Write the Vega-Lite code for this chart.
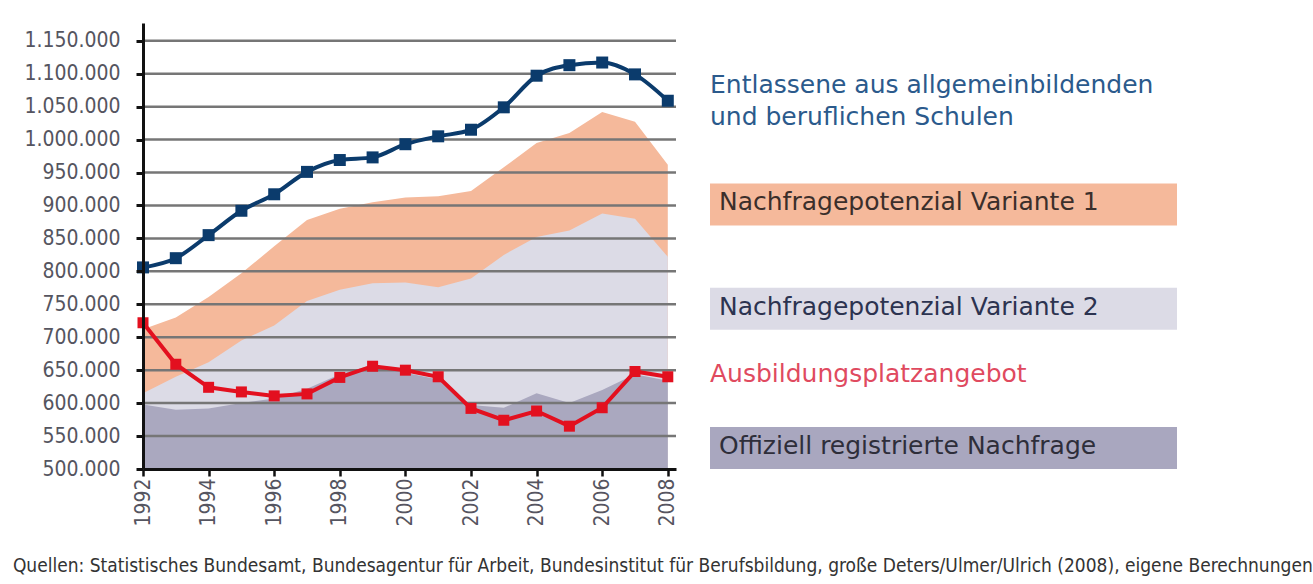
{
  "$schema": "https://vega.github.io/schema/vega-lite/v6.json",
  "background": "white",
  "padding": {"left": 12, "top": 23, "right": 5, "bottom": 5},
  "config": {
    "view": {"stroke": null},
    "locale": {"number": {"decimal": ",", "thousands": ".", "grouping": [3], "currency": ["", " €"]}},
    "font": "DejaVu Sans",
    "axisY": {"labelOverlap": false, "labelSeparation": 0, "labelFlush": false}
  },
  "title": {
    "text": "Quellen: Statistisches Bundesamt, Bundesagentur für Arbeit, Bundesinstitut für Berufsbildung, große Deters/Ulmer/Ulrich (2008), eigene Berechnungen",
    "orient": "bottom",
    "anchor": "start",
    "offset": 31,
    "dx": -11,
    "fontSize": 19,
    "font": "DejaVu Sans Condensed, Liberation Sans Narrow, sans-serif",
    "fontWeight": "normal",
    "color": "#333333"
  },
  "datasets": {
    "series": [
      {"year": 1992, "entlassene": 806000, "angebot": 722000, "variante1": 712000, "variante2": 615000, "nachfrage": 598000},
      {"year": 1993, "entlassene": 820000, "angebot": 659000, "variante1": 730000, "variante2": 640000, "nachfrage": 590000},
      {"year": 1994, "entlassene": 855000, "angebot": 624000, "variante1": 761000, "variante2": 662000, "nachfrage": 592000},
      {"year": 1995, "entlassene": 892000, "angebot": 617000, "variante1": 797000, "variante2": 695000, "nachfrage": 600000},
      {"year": 1996, "entlassene": 917000, "angebot": 611000, "variante1": 838000, "variante2": 718000, "nachfrage": 607000},
      {"year": 1997, "entlassene": 951000, "angebot": 614000, "variante1": 878000, "variante2": 755000, "nachfrage": 622000},
      {"year": 1998, "entlassene": 969000, "angebot": 639000, "variante1": 895000, "variante2": 772000, "nachfrage": 644000},
      {"year": 1999, "entlassene": 973000, "angebot": 656000, "variante1": 905000, "variante2": 782000, "nachfrage": 658000},
      {"year": 2000, "entlassene": 993000, "angebot": 650000, "variante1": 912000, "variante2": 783000, "nachfrage": 646000},
      {"year": 2001, "entlassene": 1005000, "angebot": 640000, "variante1": 914000, "variante2": 776000, "nachfrage": 636000},
      {"year": 2002, "entlassene": 1015000, "angebot": 592000, "variante1": 922000, "variante2": 789000, "nachfrage": 597000},
      {"year": 2003, "entlassene": 1049000, "angebot": 574000, "variante1": 958000, "variante2": 825000, "nachfrage": 593000},
      {"year": 2004, "entlassene": 1097000, "angebot": 588000, "variante1": 995000, "variante2": 852000, "nachfrage": 615000},
      {"year": 2005, "entlassene": 1113000, "angebot": 565000, "variante1": 1010000, "variante2": 862000, "nachfrage": 600000},
      {"year": 2006, "entlassene": 1117000, "angebot": 593000, "variante1": 1042000, "variante2": 888000, "nachfrage": 620000},
      {"year": 2007, "entlassene": 1099000, "angebot": 648000, "variante1": 1027000, "variante2": 880000, "nachfrage": 644000},
      {"year": 2008, "entlassene": 1059000, "angebot": 640000, "variante1": 962000, "variante2": 822000, "nachfrage": 634000}
    ],
    "grid": [
      {"level": 550000}, {"level": 600000}, {"level": 650000}, {"level": 700000},
      {"level": 750000}, {"level": 800000}, {"level": 850000}, {"level": 900000},
      {"level": 950000}, {"level": 1000000}, {"level": 1050000}, {"level": 1100000},
      {"level": 1150000}
    ],
    "legend": [
      {"id": "E", "label": "Entlassene aus allgemeinbildenden\nund beruflichen Schulen"},
      {"id": "V1", "label": "Nachfragepotenzial Variante 1"},
      {"id": "V2", "label": "Nachfragepotenzial Variante 2"},
      {"id": "A", "label": "Ausbildungsplatzangebot"},
      {"id": "N", "label": "Offiziell registrierte Nachfrage"}
    ]
  },
  "spacing": 32,
  "hconcat": [
    {
      "width": 533,
      "height": 446,
      "data": {"name": "series"},
      "layer": [
        {
          "mark": {"type": "area", "color": "#f5b99b", "opacity": 1},
          "encoding": {
            "x": {
              "field": "year", "type": "quantitative",
              "scale": {"domain": [1992, 2008.25], "nice": false, "zero": false},
              "axis": {
                "title": null,
                "values": [1992, 1993, 1994, 1995, 1996, 1997, 1998, 1999, 2000, 2001, 2002, 2003, 2004, 2005, 2006, 2007, 2008],
                "labelExpr": "datum.value % 2 == 0 ? format(datum.value, 'd') : ''",
                "labelAngle": 270,
                "grid": false,
                "domainColor": "#111111", "domainWidth": 3,
                "tickColor": "#111111", "tickWidth": 2.5, "tickSize": 7,
                "labelPadding": 2,
                "labelFont": "DejaVu Sans Condensed, Liberation Sans Narrow, sans-serif",
                "labelFontSize": 21,
                "labelColor": "#555560",
                "labelOverlap": false,
                "labelFlush": false,
                "zindex": 1
              }
            },
            "y": {
              "field": "variante1", "type": "quantitative",
              "scale": {"domain": [500000, 1177000], "nice": false, "zero": false},
              "axis": {
                "title": null,
                "values": [500000, 550000, 600000, 650000, 700000, 750000, 800000, 850000, 900000, 950000, 1000000, 1050000, 1100000, 1150000],
                "tickCount": 14,
                "format": ",d",
                "grid": false,
                "domainColor": "#111111", "domainWidth": 3,
                "tickColor": "#111111", "tickWidth": 3, "tickSize": 7,
                "labelPadding": 16,
                "labelFont": "DejaVu Sans Condensed, Liberation Sans Narrow, sans-serif",
                "labelFontSize": 21,
                "labelColor": "#555560",
                "labelOverlap": false,
                "labelFlush": false,
                "zindex": 1
              }
            },
            "y2": {"datum": 500000}
          }
        },
        {
          "mark": {"type": "area", "color": "#dcdbe6", "opacity": 1},
          "encoding": {
            "x": {"field": "year", "type": "quantitative"},
            "y": {"field": "variante2", "type": "quantitative"},
            "y2": {"datum": 500000}
          }
        },
        {
          "mark": {"type": "area", "color": "#aaa8bf", "opacity": 1},
          "encoding": {
            "x": {"field": "year", "type": "quantitative"},
            "y": {"field": "nachfrage", "type": "quantitative"},
            "y2": {"datum": 500000}
          }
        },
        {
          "data": {"name": "grid"},
          "mark": {"type": "rule", "color": "#767676", "strokeWidth": 2.5},
          "encoding": {
            "y": {
              "field": "level", "type": "quantitative",
              "axis": {
                "title": null,
                "values": [500000, 550000, 600000, 650000, 700000, 750000, 800000, 850000, 900000, 950000, 1000000, 1050000, 1100000, 1150000],
                "tickCount": 14,
                "format": ",d",
                "labelOverlap": false
              }
            },
            "x": {"datum": 1992},
            "x2": {"datum": 2008.25}
          }
        },
        {
          "mark": {"type": "line", "color": "#e3101f", "strokeWidth": 4},
          "encoding": {
            "x": {"field": "year", "type": "quantitative"},
            "y": {"field": "angebot", "type": "quantitative"}
          }
        },
        {
          "mark": {"type": "square", "color": "#e3101f", "size": 121, "opacity": 1},
          "encoding": {
            "x": {"field": "year", "type": "quantitative"},
            "y": {"field": "angebot", "type": "quantitative"}
          }
        },
        {
          "mark": {"type": "line", "color": "#0b3b6c", "strokeWidth": 4, "interpolate": "monotone"},
          "encoding": {
            "x": {"field": "year", "type": "quantitative"},
            "y": {"field": "entlassene", "type": "quantitative"}
          }
        },
        {
          "mark": {"type": "square", "color": "#0b3b6c", "size": 144, "opacity": 1},
          "encoding": {
            "x": {"field": "year", "type": "quantitative"},
            "y": {"field": "entlassene", "type": "quantitative"}
          }
        }
      ]
    },
    {
      "width": 467,
      "height": 446,
      "data": {"name": "legend"},
      "encoding": {
        "y": {
          "field": "id", "type": "nominal",
          "scale": {"domain": ["E", "_1", "_2", "V1", "_4", "_5", "V2", "_7", "A", "_9", "N"], "paddingInner": 0, "paddingOuter": 0.908, "align": 0.943},
          "axis": null
        }
      },
      "layer": [
        {
          "transform": [{"filter": {"field": "id", "oneOf": ["V1", "V2", "N"]}}],
          "mark": {"type": "bar", "height": 42},
          "encoding": {
            "x": {"datum": 0, "type": "quantitative", "scale": {"domain": [0, 1]}, "axis": null},
            "x2": {"datum": 1},
            "color": {"field": "id", "type": "nominal", "scale": {"domain": ["V1", "V2", "N"], "range": ["#f5b99b", "#dcdbe6", "#a9a7bf"]}, "legend": null}
          }
        },
        {
          "transform": [{"filter": {"field": "id", "oneOf": ["V1", "V2", "N"]}}],
          "mark": {"type": "text", "align": "left", "baseline": "middle", "dx": 9, "dy": -2, "fontSize": 25, "font": "DejaVu Sans"},
          "encoding": {
            "x": {"datum": 0, "type": "quantitative"},
            "text": {"field": "label"},
            "color": {"field": "id", "type": "nominal", "scale": {"domain": ["V1", "V2", "N"], "range": ["#3b2f2b", "#2c3350", "#2e2e3a"]}, "legend": null}
          }
        },
        {
          "transform": [{"filter": {"field": "id", "equal": "E"}}],
          "mark": {"type": "text", "align": "left", "baseline": "middle", "dx": 0, "dy": -15, "fontSize": 25, "font": "DejaVu Sans", "lineBreak": "\n", "lineHeight": 32, "color": "#2b5a8c"},
          "encoding": {
            "x": {"datum": 0, "type": "quantitative"},
            "text": {"field": "label"}
          }
        },
        {
          "transform": [{"filter": {"field": "id", "equal": "A"}}],
          "mark": {"type": "text", "align": "left", "baseline": "middle", "dx": 0, "dy": -4, "fontSize": 25, "font": "DejaVu Sans", "color": "#e04a5f"},
          "encoding": {
            "x": {"datum": 0, "type": "quantitative"},
            "text": {"field": "label"}
          }
        }
      ],
      "resolve": {"scale": {"color": "independent"}}
    }
  ]
}
